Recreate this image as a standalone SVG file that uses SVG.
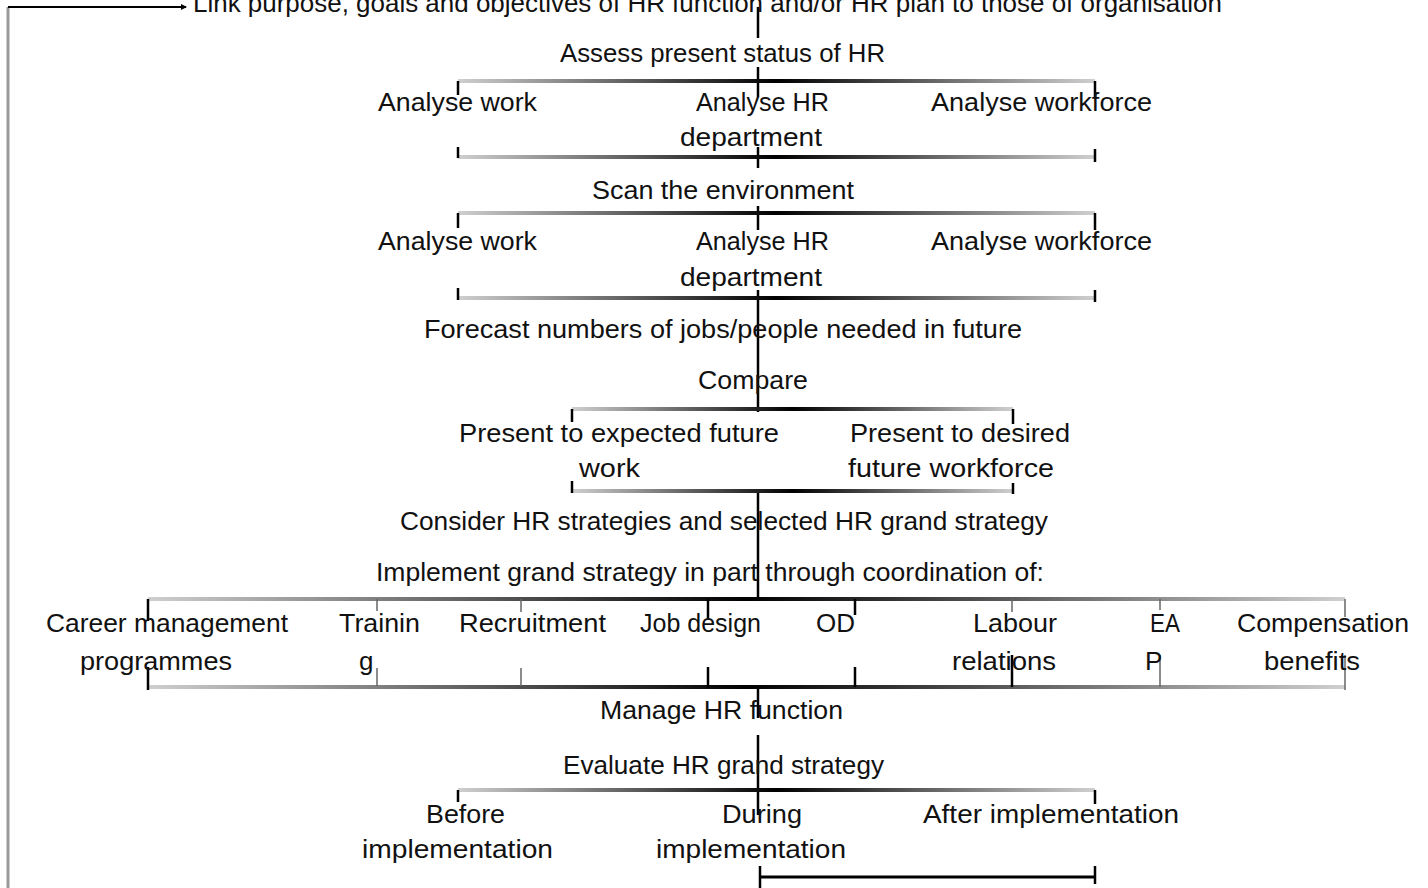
<svg xmlns="http://www.w3.org/2000/svg" width="1428" height="888" viewBox="0 0 1428 888">
<defs>
<linearGradient id="g" x1="0" y1="0" x2="1" y2="0">
<stop offset="0" stop-color="#cfcfcf"/>
<stop offset="0.5" stop-color="#000"/>
<stop offset="1" stop-color="#cfcfcf"/>
</linearGradient>
<marker id="arr" markerWidth="6" markerHeight="6" refX="5" refY="3" orient="auto" markerUnits="userSpaceOnUse">
<path d="M0,0 L6,3 L0,6 z" fill="#000"/>
</marker>
<style>
text{font-family:"Liberation Sans",Arial,sans-serif;font-size:26px;fill:#111}
.t{stroke:#000;stroke-width:2.5}
.tl{stroke:#666;stroke-width:1.5}
.c{stroke:#000;stroke-width:2.5;fill:none}
.bar{fill:url(#g)}
</style>
</defs>
<rect width="1428" height="888" fill="#fff"/>

<g id="connectors">
<line x1="8" y1="7" x2="8" y2="888" stroke="#9a9a9a" stroke-width="3"/>
<line x1="8" y1="7" x2="186" y2="7" stroke="#000" stroke-width="2" marker-end="url(#arr)"/>
<line class="c" x1="758" y1="7" x2="758" y2="38"/>
<line class="c" x1="758" y1="67" x2="758" y2="97"/>
<line class="c" x1="758" y1="147" x2="758" y2="168"/>
<line class="c" x1="758" y1="206" x2="758" y2="230"/>
<line class="c" x1="758" y1="290" x2="758" y2="412"/>
<line class="c" x1="758" y1="493" x2="758" y2="599"/>
<line class="c" x1="758" y1="687" x2="758" y2="718"/>
<line class="c" x1="758" y1="735" x2="758" y2="815"/>

<!-- bracket 1 -->
<rect class="bar" x="458" y="79" width="637" height="4"/>
<line class="t" x1="458" y1="81" x2="458" y2="95"/>
<line class="t" x1="1095" y1="81" x2="1095" y2="97"/>
<rect class="bar" x="458" y="155" width="637" height="4"/>
<line class="t" x1="458" y1="147" x2="458" y2="158"/>
<line class="t" x1="1095" y1="149" x2="1095" y2="162"/>
<!-- bracket 2 -->
<rect class="bar" x="458" y="211" width="637" height="4"/>
<line class="t" x1="458" y1="213" x2="458" y2="228"/>
<line class="t" x1="1095" y1="213" x2="1095" y2="230"/>
<rect class="bar" x="458" y="296" width="637" height="4"/>
<line class="t" x1="458" y1="288" x2="458" y2="300"/>
<line class="t" x1="1095" y1="290" x2="1095" y2="302"/>
<!-- compare bracket -->
<rect class="bar" x="572" y="407" width="441" height="4"/>
<line class="t" x1="572" y1="409" x2="572" y2="422"/>
<line class="t" x1="1013" y1="409" x2="1013" y2="424"/>
<rect class="bar" x="572" y="489" width="441" height="4"/>
<line class="t" x1="572" y1="481" x2="572" y2="493"/>
<line class="t" x1="1013" y1="483" x2="1013" y2="494"/>
<!-- wide bracket -->
<rect class="bar" x="148" y="597" width="1197" height="4"/>
<rect class="bar" x="148" y="685" width="1197" height="4"/>
<line class="t" x1="148" y1="599" x2="148" y2="621"/>
<line class="t" x1="148" y1="667" x2="148" y2="690"/>
<line class="tl" x1="377" y1="599" x2="377" y2="611"/>
<line class="tl" x1="377" y1="668" x2="377" y2="686"/>
<line class="tl" x1="521" y1="599" x2="521" y2="612"/>
<line class="tl" x1="521" y1="668" x2="521" y2="686"/>
<line class="t" x1="708" y1="599" x2="708" y2="620"/>
<line class="t" x1="708" y1="667" x2="708" y2="688"/>
<line class="t" x1="855" y1="599" x2="855" y2="615"/>
<line class="t" x1="855" y1="667" x2="855" y2="687"/>
<line class="tl" x1="1012" y1="599" x2="1012" y2="612"/>
<line class="t" x1="1012" y1="655" x2="1012" y2="687"/>
<line class="tl" x1="1160" y1="599" x2="1160" y2="610"/>
<line class="tl" x1="1160" y1="655" x2="1160" y2="687"/>
<line class="tl" x1="1345" y1="599" x2="1345" y2="617"/>
<line class="tl" x1="1345" y1="655" x2="1345" y2="690"/>
<!-- evaluate bracket -->
<rect class="bar" x="458" y="788" width="637" height="4"/>
<line class="t" x1="458" y1="790" x2="458" y2="802"/>
<line class="t" x1="1095" y1="790" x2="1095" y2="804"/>
<line x1="760" y1="877" x2="1095" y2="877" stroke="#000" stroke-width="3"/>
<line class="t" x1="760" y1="866" x2="760" y2="888"/>
<line class="t" x1="1095" y1="866" x2="1095" y2="884"/>
</g>

<g id="n-link"><text x="193" y="12" textLength="1029" lengthAdjust="spacingAndGlyphs">Link purpose, goals and objectives of HR function and/or HR plan to those of organisation</text></g>
<g id="n-assess"><text x="560" y="62" textLength="325" lengthAdjust="spacingAndGlyphs">Assess present status of HR</text></g>
<g id="n-a-work1"><text x="378" y="111" textLength="159" lengthAdjust="spacingAndGlyphs">Analyse work</text></g>
<g id="n-a-hr1"><text x="696" y="111" textLength="133" lengthAdjust="spacingAndGlyphs">Analyse HR</text><text x="680" y="146" textLength="142" lengthAdjust="spacingAndGlyphs">department</text></g>
<g id="n-a-wf1"><text x="931" y="111" textLength="221" lengthAdjust="spacingAndGlyphs">Analyse workforce</text></g>
<g id="n-scan"><text x="592" y="199" textLength="262" lengthAdjust="spacingAndGlyphs">Scan the environment</text></g>
<g id="n-a-work2"><text x="378" y="250" textLength="159" lengthAdjust="spacingAndGlyphs">Analyse work</text></g>
<g id="n-a-hr2"><text x="696" y="250" textLength="133" lengthAdjust="spacingAndGlyphs">Analyse HR</text><text x="680" y="286" textLength="142" lengthAdjust="spacingAndGlyphs">department</text></g>
<g id="n-a-wf2"><text x="931" y="250" textLength="221" lengthAdjust="spacingAndGlyphs">Analyse workforce</text></g>
<g id="n-forecast"><text x="424" y="338" textLength="598" lengthAdjust="spacingAndGlyphs">Forecast numbers of jobs/people needed in future</text></g>
<g id="n-compare"><text x="698" y="389" textLength="110" lengthAdjust="spacingAndGlyphs">Compare</text></g>
<g id="n-expected"><text x="459" y="442" textLength="320" lengthAdjust="spacingAndGlyphs">Present to expected future</text><text x="579" y="477" textLength="61" lengthAdjust="spacingAndGlyphs">work</text></g>
<g id="n-desired"><text x="850" y="442" textLength="220" lengthAdjust="spacingAndGlyphs">Present to desired</text><text x="848" y="477" textLength="206" lengthAdjust="spacingAndGlyphs">future workforce</text></g>
<g id="n-consider"><text x="400" y="530" textLength="648" lengthAdjust="spacingAndGlyphs">Consider HR strategies and selected HR grand strategy</text></g>
<g id="n-implement"><text x="376" y="581" textLength="668" lengthAdjust="spacingAndGlyphs">Implement grand strategy in part through coordination of:</text></g>
<g id="n-career"><text x="46" y="632" textLength="242" lengthAdjust="spacingAndGlyphs">Career management</text><text x="80" y="670" textLength="152" lengthAdjust="spacingAndGlyphs">programmes</text></g>
<g id="n-training"><text x="339" y="632" textLength="81" lengthAdjust="spacingAndGlyphs">Trainin</text><text x="359" y="670">g</text></g>
<g id="n-recruit"><text x="459" y="632" textLength="147" lengthAdjust="spacingAndGlyphs">Recruitment</text></g>
<g id="n-job"><text x="640" y="632" textLength="121" lengthAdjust="spacingAndGlyphs">Job design</text></g>
<g id="n-od"><text x="816" y="632">OD</text></g>
<g id="n-labour"><text x="973" y="632" textLength="84" lengthAdjust="spacingAndGlyphs">Labour</text><text x="952" y="670" textLength="104" lengthAdjust="spacingAndGlyphs">relations</text></g>
<g id="n-eap"><text x="1150" y="632" textLength="30" lengthAdjust="spacingAndGlyphs">EA</text><text x="1145" y="670">P</text></g>
<g id="n-comp"><text x="1237" y="632" textLength="172" lengthAdjust="spacingAndGlyphs">Compensation</text><text x="1264" y="670" textLength="96" lengthAdjust="spacingAndGlyphs">benefits</text></g>
<g id="n-manage"><text x="600" y="719" textLength="243" lengthAdjust="spacingAndGlyphs">Manage HR function</text></g>
<g id="n-evaluate"><text x="563" y="774" textLength="321" lengthAdjust="spacingAndGlyphs">Evaluate HR grand strategy</text></g>
<g id="n-before"><text x="426" y="823" textLength="79" lengthAdjust="spacingAndGlyphs">Before</text><text x="362" y="858" textLength="191" lengthAdjust="spacingAndGlyphs">implementation</text></g>
<g id="n-during"><text x="722" y="823" textLength="80" lengthAdjust="spacingAndGlyphs">During</text><text x="656" y="858" textLength="190" lengthAdjust="spacingAndGlyphs">implementation</text></g>
<g id="n-after"><text x="923" y="823" textLength="256" lengthAdjust="spacingAndGlyphs">After implementation</text></g>
</svg>
